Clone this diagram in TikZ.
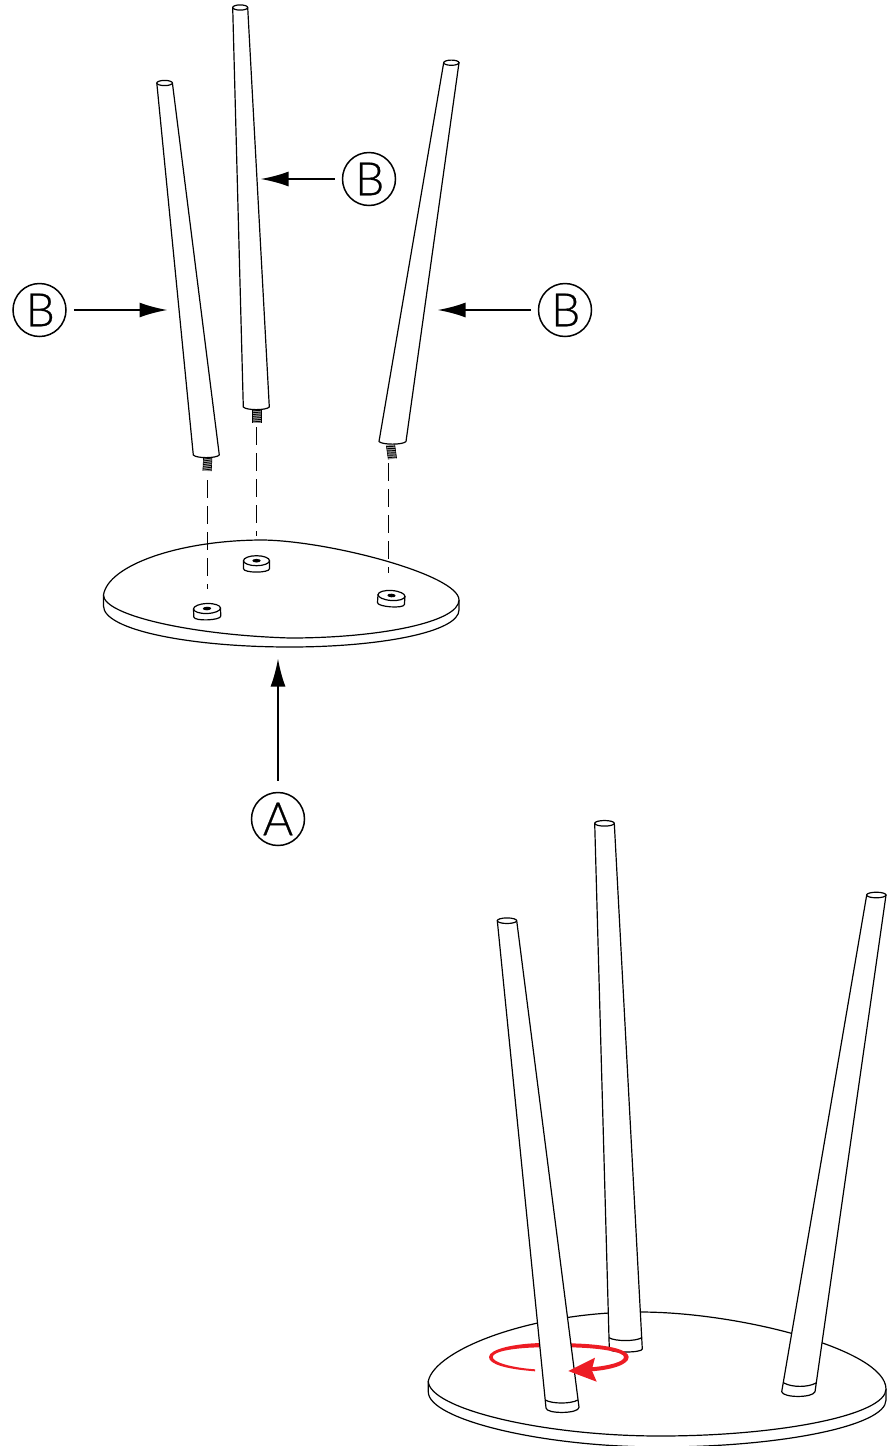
\documentclass[tikz,border=0pt]{standalone}
\usepackage{fontspec}
\setmainfont{Lato Light}[RawFeature={embolden=0.6}]
\usetikzlibrary{arrows.meta,calc}
\definecolor{redarrow}{HTML}{ED1C24}
\tikzset{
  ink/.style={draw=black,line width=1.2pt,line join=round},
  legbody/.style={ink,fill=white},
  callout/.style={circle,draw=black,line width=1.5pt,minimum size=53pt,inner sep=0pt,font=\fontsize{46}{46}\selectfont},
  pointer/.style={draw=black,line width=2pt,shorten <=7pt,-{Latex[length=28pt,width=15pt]}},
  guide/.style={draw=black,line width=1.2pt,dash pattern=on 18pt off 8pt},
  redfill/.style={fill=redarrow,draw=none},
}
% top-left x,y ; top-right x,y ; bottom-right x,y ; bottom-left x,y
\newcommand{\legshape}[8]{%
  \path[legbody] (#1,#2) -- (#7,#8) .. controls ($(#7,#8)+(3,3.5)$) and ($(#5,#6)+(-3,3.5)$) .. (#5,#6) -- (#3,#4) -- cycle;
  \path[legbody] ({(#1+#3)/2},{(#2+#4)/2}) ellipse ({(#3-#1)/2} and 2.6);
}
\newcommand{\boss}[4]{% cx, cy, rx, rot
  \begin{scope}[shift={(#1,#2)},rotate=#4]
    \path[legbody] (-#3,0) -- (-#3,8) .. controls (-#3,12.5) and (#3,12.5) .. (#3,8) -- (#3,0) -- cycle;
    \path[legbody] (0,0) ellipse (#3 and 5);
    \fill[black] (0,0) ellipse (4.2 and 1.8);
  \end{scope}
}
\newcommand{\stud}[3]{% cx, top y, rot
  \begin{scope}[shift={(#1,#2)},rotate=#3]
    \fill[gray!80] (-4.2,0) rectangle (4.2,14);
    \draw[black,line width=.6pt] (-4.2,0) -- (-4.2,14) (4.2,0) -- (4.2,14);
    \foreach \k in {1,3.2,...,13.5} \draw[black,line width=.9pt] (-4.2,\k) -- (4.2,\k+.8);
  \end{scope}
}
\begin{document}
\begin{tikzpicture}[x=1pt,y=-1pt]
\useasboundingbox (0,0) rectangle (890,1446);
\fill[white] (0,0) rectangle (890,1446);

% ---------- upper figure: base
\draw[ink] (103.5,595) -- (103.5,606) .. controls (103.5,630) and (190,647) .. (290,647) .. controls (380,647) and (459,632) .. (459,610) -- (459,600);
\path[ink,fill=white] (103.5,595) .. controls (108,565) and (180,540) .. (263,540) .. controls (330,541) and (459,575) .. (459,600) .. controls (459,622) and (380,638) .. (290,638) .. controls (190,635) and (103.5,615) .. (103.5,595) -- cycle;

\boss{207}{608.5}{13.5}{2}
\boss{256.5}{560.7}{13}{0}
\boss{391.5}{595.5}{13.5}{-4}

% guides
\coordinate (g1a) at (207.5,480); \coordinate (g1b) at (207.5,589);
\coordinate (g2a) at (256.5,427); \coordinate (g2b) at (256.5,536);
\coordinate (g3a) at (388.5,463); \coordinate (g3b) at (388.5,573);
\draw[guide] (g1a) -- (g1b);
\draw[guide] (g2a) -- (g2b);
\draw[guide] (g3a) -- (g3b);

% ---------- upper figure: legs
\stud{207.8}{457}{-3}
\stud{256.8}{409}{0}
\stud{390.5}{445}{8}
\legshape{156.8}{83}{172.4}{83}{219.3}{455}{193.3}{455}
\legshape{232.7}{7.5}{247.7}{7.5}{269.3}{407}{243.3}{407}
\legshape{443.7}{62.7}{459}{62.7}{406}{441.5}{379}{441.5}

% ---------- callouts
\node[callout] (b1) at (369,179) {\kern1.5pt B};
\node[callout] (b2) at (39.5,310) {\kern1.5pt B};
\node[callout] (b3) at (565,310) {\kern1.5pt B};
\node[callout] (a) at (278,819) {A};
\coordinate (t1) at (260.5,179);
\coordinate (t2) at (167.5,310);
\coordinate (t3) at (437.5,310);
\coordinate (t4) at (278,658.5);
\draw[pointer] (b1) -- (t1);
\draw[pointer] (b2) -- (t2);
\draw[pointer] (b3) -- (t3);
\draw[pointer,shorten <=11pt] (a) -- (t4);

% ---------- lower figure: base
\draw[ink] (428.3,1381) -- (428.3,1392) .. controls (428.3,1419) and (540,1447) .. (660,1447) .. controls (780,1447) and (886,1426) .. (886,1400) -- (886,1389);
\path[ink,fill=white] (428.3,1381) .. controls (435,1350) and (530,1312) .. (640,1312) .. controls (740,1312) and (886,1350) .. (886,1389) .. controls (886,1415) and (780,1436) .. (660,1436) .. controls (540,1436) and (428.3,1408) .. (428.3,1381) -- cycle;

% lower legs
\path[legbody] (594.7,823.3) -- (614.3,823.3) -- (642.3,1349) .. controls (642.3,1353) and (609.3,1353) .. (609.3,1349) -- cycle;
\draw[ink] (609,1337.7) .. controls (615,1341.5) and (636,1341.5) .. (641.6,1337.7);
\path[legbody] (604.5,823.3) ellipse (9.8 and 2.8);
\path[legbody] (866.7,895) -- (886,895) -- (815,1391.7) .. controls (813,1398) and (783,1398) .. (781.7,1391.7) -- cycle;
\draw[ink] (784,1383) .. controls (792,1387.5) and (808,1387.5) .. (816,1383);
\path[legbody] (876.3,895) ellipse (9.7 and 2.8);

% red arrow: part behind the front leg
\path[redfill] (535,1371.3) .. controls (505,1369) and (489,1364) .. (489,1357) .. controls (489,1349) and (515,1343.5) .. (541.7,1343) -- (541.7,1347.3) .. controls (517,1347.5) and (492.7,1351) .. (492.7,1357) .. controls (492.7,1362) and (510,1367.5) .. (535,1369.3) -- cycle;
\path[redfill] (569,1343.3) .. controls (605,1344) and (628.7,1349) .. (628.7,1357) .. controls (628.7,1365) and (610,1370) .. (591,1371.3) -- (591,1367.3) .. controls (608,1366) and (624,1362) .. (624,1357) .. controls (624,1352) and (600,1347.7) .. (569,1347.3) -- cycle;

\path[legbody] (497.3,920.7) -- (516.7,920.7) -- (579,1407.3) .. controls (579,1414) and (546,1414) .. (546,1408) -- cycle;
\draw[ink] (545.3,1400) .. controls (552,1404) and (571,1404) .. (577.8,1400);
\path[legbody] (507,920.7) ellipse (9.7 and 2.8);

% arrow head over the leg
\path[redfill] (568.3,1371) -- (595,1357.7) -- (591.7,1370) -- (596.7,1381.7) -- cycle;
\end{tikzpicture}
\end{document}
